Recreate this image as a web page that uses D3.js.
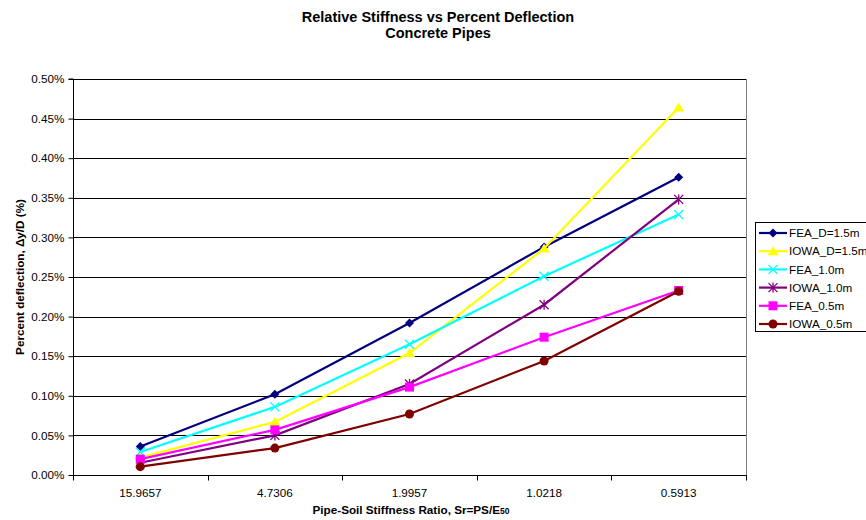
<!DOCTYPE html>
<html>
<head>
<meta charset="utf-8">
<script src="https://cdn.jsdelivr.net/npm/d3@7"></script>
<style>
  html, body { margin: 0; padding: 0; background: #fff; }
  svg { display: block; font-family: "Liberation Sans", Arial, sans-serif; }
</style>
</head>
<body>
<svg id="chart" width="866" height="520"></svg>
<script>
// Pipe-soil stiffness ratio categories (Sr = PS/E50)
const categories = ["15.9657", "4.7306", "1.9957", "1.0218", "0.5913"];

// Percent deflection Δy/D (%) for each series
const feaD15  = [0.036, 0.102, 0.192, 0.288, 0.376];
const iowaD15 = [0.022, 0.067, 0.154, 0.286, 0.464];
const fea10   = [0.029, 0.086, 0.165, 0.251, 0.329];
const iowa10  = [0.0155, 0.050, 0.115, 0.215, 0.348];
const fea05   = [0.020, 0.057, 0.111, 0.174, 0.233];
const iowa05  = [0.0105, 0.034, 0.077, 0.144, 0.232];

const yTicks = [0, 0.05, 0.10, 0.15, 0.20, 0.25, 0.30, 0.35, 0.40, 0.45, 0.50];

const series = [
  { name: "FEA_D=1.5m",  values: feaD15,  color: "#000080", symbol: "diamond" },
  { name: "IOWA_D=1.5m", values: iowaD15, color: "#FFFF00", symbol: "triangle" },
  { name: "FEA_1.0m",    values: fea10,   color: "#00FFFF", symbol: "x" },
  { name: "IOWA_1.0m",   values: iowa10,  color: "#800080", symbol: "star" },
  { name: "FEA_0.5m",    values: fea05,   color: "#FF00FF", symbol: "square" },
  { name: "IOWA_0.5m",   values: iowa05,  color: "#800000", symbol: "circle" }
];

const FS = 11.7;   // body text size
const svg = d3.select("#chart");
const plot = { left: 73, right: 746, top: 79, bottom: 475 };

const x = d3.scaleBand().domain(categories).range([plot.left, plot.right]);
const y = d3.scaleLinear().domain([0, 0.5]).range([plot.bottom, plot.top]);

// Titles
const title = svg.append("g").attr("font-weight", "bold").attr("font-size", 14.5)
  .attr("text-anchor", "middle").attr("fill", "#000");
title.append("text").attr("x", 438).attr("y", 22).text("Relative Stiffness vs Percent Deflection");
title.append("text").attr("x", 438).attr("y", 38).text("Concrete Pipes");

// Horizontal gridlines
svg.append("g").selectAll("line").data(yTicks.filter(d => d > 0)).join("line")
  .attr("x1", plot.left).attr("x2", plot.right)
  .attr("y1", d => Math.round(y(d)) + 0.5).attr("y2", d => Math.round(y(d)) + 0.5)
  .attr("stroke", "#000").attr("stroke-width", 1);

// Plot-area border on the right
svg.append("line")
  .attr("x1", plot.right + 0.5).attr("x2", plot.right + 0.5)
  .attr("y1", plot.top).attr("y2", plot.bottom)
  .attr("stroke", "#808080");

// Y axis
const yAxis = d3.axisLeft(y).tickValues(yTicks).tickSize(5).tickPadding(4)
  .tickFormat(d => d3.format(".2f")(d) + "%");
const gy = svg.append("g").attr("transform", `translate(${plot.left + 0.5},0)`).call(yAxis);
gy.selectAll("text").attr("font-size", FS).attr("font-family", "Liberation Sans, Arial, sans-serif").attr("fill", "#000");
gy.selectAll("line").attr("stroke", "#000");
gy.select(".domain").attr("stroke", "#000").attr("d", `M-5,${plot.top}H0V${plot.bottom + 0.5}`);

// X axis: labels centred in bands, tick marks on band boundaries
const gx = svg.append("g").attr("transform", `translate(0,${Math.round(plot.bottom) + 0.5})`);
gx.append("line").attr("x1", plot.left).attr("x2", plot.right + 1).attr("stroke", "#000");
const bounds = d3.range(categories.length + 1).map(i => plot.left + i * x.bandwidth());
gx.selectAll("line.tick").data(bounds).join("line").attr("class", "tick")
  .attr("x1", d => Math.round(d) + 0.5).attr("x2", d => Math.round(d) + 0.5)
  .attr("y1", 0).attr("y2", 5).attr("stroke", "#000");
gx.selectAll("text").data(categories).join("text")
  .attr("x", d => x(d) + x.bandwidth() / 2).attr("y", 21)
  .attr("text-anchor", "middle").attr("font-size", FS).attr("fill", "#000")
  .text(d => d);

// Axis titles
svg.append("text")
  .attr("transform", `translate(24,${(plot.top + plot.bottom) / 2}) rotate(-90)`)
  .attr("text-anchor", "middle").attr("font-size", FS).attr("font-weight", "bold")
  .text("Percent deflection, Δy/D (%)");

const xt = svg.append("text")
  .attr("x", 411).attr("y", 514).attr("text-anchor", "middle")
  .attr("font-size", FS).attr("font-weight", "bold");
xt.append("tspan").text("Pipe-Soil Stiffness Ratio, Sr=PS/E");
xt.append("tspan").attr("font-size", 8.5).text("50");

// Marker drawing
function drawMarker(g, s, cx, cy) {
  const c = s.color;
  switch (s.symbol) {
    case "diamond":
      g.append("path").attr("d", `M${cx},${cy - 4.5}L${cx + 4.5},${cy}L${cx},${cy + 4.5}L${cx - 4.5},${cy}Z`).attr("fill", c);
      break;
    case "triangle":
      g.append("path").attr("d", `M${cx},${cy - 5}L${cx + 5.5},${cy + 4}L${cx - 5.5},${cy + 4}Z`).attr("fill", c);
      break;
    case "square":
      g.append("rect").attr("x", cx - 4.5).attr("y", cy - 4.5).attr("width", 9).attr("height", 9).attr("fill", c);
      break;
    case "circle":
      g.append("circle").attr("cx", cx).attr("cy", cy).attr("r", 4.5).attr("fill", c);
      break;
    case "x":
      g.append("path").attr("d", `M${cx - 4.5},${cy - 4.5}L${cx + 4.5},${cy + 4.5}M${cx - 4.5},${cy + 4.5}L${cx + 4.5},${cy - 4.5}`)
        .attr("stroke", c).attr("stroke-width", 1.3).attr("fill", "none");
      break;
    case "star":
      g.append("path").attr("d", `M${cx - 4.5},${cy - 4.5}L${cx + 4.5},${cy + 4.5}M${cx - 4.5},${cy + 4.5}L${cx + 4.5},${cy - 4.5}M${cx},${cy - 5}L${cx},${cy + 5}`)
        .attr("stroke", c).attr("stroke-width", 1.3).attr("fill", "none");
      break;
  }
}

// Series lines and markers
const line = d3.line().x((d, i) => x(categories[i]) + x.bandwidth() / 2).y(d => y(d));
const gs = svg.append("g");
series.forEach(s => {
  const g = gs.append("g");
  g.append("path").datum(s.values).attr("d", line)
    .attr("fill", "none").attr("stroke", s.color).attr("stroke-width", 2.2);
  s.values.forEach((v, i) => drawMarker(g, s, x(categories[i]) + x.bandwidth() / 2, y(v)));
});

// Legend (box runs past the right edge of the canvas)
const lg = svg.append("g");
lg.append("rect").attr("x", 755.5).attr("y", 222.5).attr("width", 120).attr("height", 109)
  .attr("fill", "#fff").attr("stroke", "#000");
series.forEach((s, i) => {
  const cy = 233 + i * 18.2;
  const g = lg.append("g");
  g.append("line").attr("x1", 759).attr("x2", 787).attr("y1", cy).attr("y2", cy)
    .attr("stroke", s.color).attr("stroke-width", 2.2);
  drawMarker(g, s, 773, cy);
  g.append("text").attr("x", 789).attr("y", cy + 4.2).attr("font-size", FS).text(s.name);
});
</script>
</body>
</html>
